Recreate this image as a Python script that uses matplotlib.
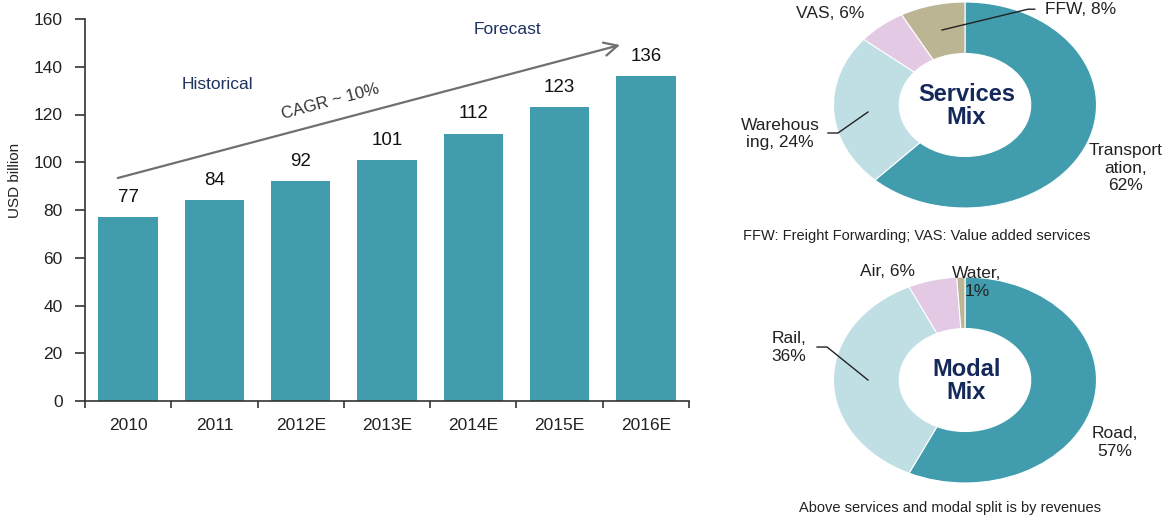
import matplotlib
matplotlib.use('Agg')
import matplotlib.pyplot as plt
import numpy as np

plt.rcParams['font.family'] = ['Liberation Sans', 'DejaVu Sans']

# ---------------- data ----------------
years = ['2010', '2011', '2012E', '2013E', '2014E', '2015E', '2016E']
market_usd_bn = [77, 84, 92, 101, 112, 123, 136]
y_ticks = [0, 20, 40, 60, 80, 100, 120, 140, 160]

services_labels = ['Transport\nation,\n62%', 'Warehous\ning, 24%', 'VAS, 6%', 'FFW, 8%']
services_share = [62, 24, 6, 8]

modal_labels = ['Road,\n57%', 'Rail,\n36%', 'Air, 6%', 'Water,\n1%']
modal_share = [57, 36, 6, 1]

TEAL = '#419DAD'
LIGHT = '#C0DFE4'
PINK = '#E3C9E3'
TAN = '#BCB594'
NAVY = '#14285A'
TXT = '#222222'
pie_colors = [TEAL, LIGHT, PINK, TAN]

W, H = 1165, 521
fig = plt.figure(figsize=(W / 100, H / 100), dpi=100)

# ---------------- bar chart ----------------
ax = fig.add_axes([85 / W, 1 - 401 / H, 604 / W, 382 / H])
x = np.arange(len(years))
ax.bar(x, market_usd_bn, width=0.69, color=TEAL)
ax.set_xlim(-0.5, len(years) - 0.5)
ax.set_ylim(0, 160)
ax.set_yticks(y_ticks)
ax.set_xticks(x)
ax.set_xticklabels(years)
ax.set_xticks(np.arange(-0.5, len(years), 1), minor=True)
ax.tick_params(axis='x', which='major', length=0, pad=12, labelsize=12.5, labelcolor=TXT)
ax.tick_params(axis='x', which='minor', length=5, width=1.2, color='#333333', direction='out')
ax.tick_params(axis='y', length=7, width=1.2, color='#333333', labelsize=12.5, pad=9, labelcolor=TXT)
for s in ['top', 'right']:
    ax.spines[s].set_visible(False)
for s in ['left', 'bottom']:
    ax.spines[s].set_color('#333333')
    ax.spines[s].set_linewidth(1.2)

for xi, v in zip(x, market_usd_bn):
    ax.annotate(str(v), (xi, v), xytext=(0, 8), textcoords='offset points',
                ha='center', va='bottom', fontsize=13.5, color='#111111')

ax.annotate('', xy=(5.70, 149.1), xytext=(-0.12, 93.4),
            arrowprops=dict(arrowstyle='->', color='#707070', lw=1.6,
                            mutation_scale=24, shrinkA=0, shrinkB=0))
ax.text(2.34, 125.5, 'CAGR ~ 10%', rotation=15, ha='center', va='center',
        rotation_mode='anchor', fontsize=12, color='#333333')
ax.text(1.03, 132.4, 'Historical', ha='center', va='center', fontsize=12.5, color='#1F3360')
ax.text(4.40, 155.8, 'Forecast', ha='center', va='center', fontsize=12.5, color='#1F3360')

fig.text(15 / W, 1 - 180 / H, 'USD billion', rotation=90, ha='center', va='center',
         fontsize=11, color=TXT)

# ---------------- donuts ----------------
def donut(cy, shares, center_text):
    pax = fig.add_axes([833.5 / W, 1 - (cy + 103) / H, 263 / W, 206 / H])
    pax.pie(shares, colors=pie_colors, startangle=90, counterclock=False, radius=1,
            wedgeprops=dict(width=0.5, edgecolor='white', linewidth=0.8))
    pax.set_aspect('auto')
    pax.set_xlim(-1, 1)
    pax.set_ylim(-1, 1)
    pax.axis('off')
    pax.text(0.01, -0.01, center_text, ha='center', va='center', fontsize=17,
             fontweight='bold', color=NAVY, linespacing=1.05)
    return pax

# Services mix
sax = donut(105, services_share, 'Services\nMix')
lab_kw = dict(ha='center', va='center', fontsize=12.5, color=TXT, clip_on=False, linespacing=1.2)
sax.text(1.224, -0.612, services_labels[0], **lab_kw)
sax.text(-1.407, -0.282, services_labels[1], **lab_kw)
sax.text(-1.027, 0.893, services_labels[2], **lab_kw)
sax.text(0.882, 0.93, services_labels[3], **lab_kw)
sax.plot([-1.042, -0.966, -0.738], [-0.272, -0.272, -0.068], color=TXT, lw=1, clip_on=False)
sax.plot([-0.175, 0.479, 0.53], [0.728, 0.93, 0.93], color=TXT, lw=1, clip_on=False)

# Modal mix
max_ = donut(380, modal_share, 'Modal\nMix')
max_.text(1.141, -0.607, modal_labels[0], **lab_kw)
max_.text(-1.338, 0.316, modal_labels[1], **lab_kw)
max_.text(-0.593, 1.049, modal_labels[2], **lab_kw)
max_.text(0.091, 0.947, modal_labels[3], **lab_kw)
max_.plot([-1.125, -1.049, -0.738], [0.320, 0.320, 0.0], color=TXT, lw=1, clip_on=False)

fig.text(917 / W, 1 - 236 / H, 'FFW: Freight Forwarding; VAS: Value added services',
         ha='center', va='center', fontsize=10.5, color=TXT)
fig.text(950 / W, 1 - 508 / H, 'Above services and modal split is by revenues',
         ha='center', va='center', fontsize=10.5, color=TXT)

fig.savefig('out.png', dpi=100)
